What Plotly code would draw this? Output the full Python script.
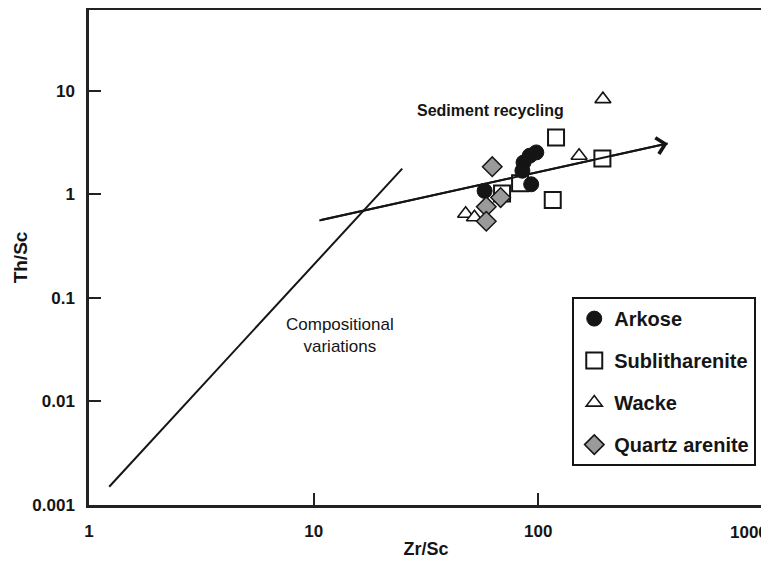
import math
import plotly.graph_objects as go

# ---- data ----
arkose_zr = [57.7, 93, 86, 91.6, 98, 85]
arkose_th = [1.08, 1.25, 2.03, 2.36, 2.54, 1.69]

sublith_zr = [120, 193, 116, 83, 69]
sublith_th = [3.54, 2.22, 0.88, 1.28, 1.02]

wacke_zr = [194, 152, 47.5, 52]
wacke_th = [8.3, 2.36, 0.65, 0.60]

quartz_zr = [62.4, 68, 58.7, 58.7]
quartz_th = [1.85, 0.93, 0.76, 0.55]

comp_zr = [1.23, 24.8]
comp_th = [0.0015, 1.77]

recyc_zr = [10.6, 377]
recyc_th = [0.56, 3.1]

x_ticks = [1, 10, 100, 1000]
x_ticklabels = ["1", "10", "100", "1000"]
y_ticks = [0.001, 0.01, 0.1, 1, 10]
y_ticklabels = ["0.001", "0.01", "0.1", "1", "10"]

FONT = "Liberation Sans, Arial, sans-serif"
INK = "#151515"

fig = go.Figure()

# reference lines
fig.add_trace(go.Scatter(x=comp_zr, y=comp_th, mode="lines",
                         line=dict(color=INK, width=2), showlegend=False, hoverinfo="skip"))
fig.add_trace(go.Scatter(x=recyc_zr, y=recyc_th, mode="lines",
                         line=dict(color=INK, width=2), showlegend=False, hoverinfo="skip"))

# data series (draw order chosen to match overlaps)
fig.add_trace(go.Scatter(x=sublith_zr, y=sublith_th, mode="markers", name="Sublitharenite",
                         legendrank=2, legendgroup="b",
                         marker=dict(symbol="square", size=16, color="white",
                                     line=dict(color=INK, width=2))))
fig.add_trace(go.Scatter(x=wacke_zr, y=wacke_th, mode="markers", name="Wacke",
                         legendrank=3, legendgroup="c",
                         marker=dict(symbol="triangle-up", size=14, color="white",
                                     line=dict(color=INK, width=1.6))))
fig.add_trace(go.Scatter(x=arkose_zr, y=arkose_th, mode="markers", name="Arkose",
                         legendrank=1, legendgroup="a",
                         marker=dict(symbol="circle", size=15, color=INK,
                                     line=dict(color=INK, width=1))))
fig.add_trace(go.Scatter(x=quartz_zr, y=quartz_th, mode="markers", name="Quartz arenite",
                         legendrank=4, legendgroup="d",
                         marker=dict(symbol="diamond", size=15, color="#9a9a9a",
                                     line=dict(color=INK, width=1.5))))

# arrowhead at the end of the recycling trend
fig.add_annotation(x=math.log10(recyc_zr[1]), y=math.log10(recyc_th[1]),
                   ax=math.log10(recyc_zr[0]), ay=math.log10(recyc_th[0]),
                   xref="x", yref="y", axref="x", ayref="y",
                   text="", showarrow=True, arrowhead=4, arrowsize=1.6,
                   arrowwidth=2, arrowcolor=INK)

fig.add_annotation(x=math.log10(61.5), y=math.log10(6.5), xref="x", yref="y",
                   text="<b>Sediment recycling</b>", showarrow=False,
                   font=dict(family=FONT, size=16, color=INK))
fig.add_annotation(x=math.log10(13.1), y=math.log10(0.0434), xref="x", yref="y",
                   text="Compositional<br>variations", showarrow=False,
                   font=dict(family=FONT, size=17, color=INK), align="center")

# last x tick label sits at the right edge, kept inside the picture
fig.add_annotation(x=math.log10(x_ticks[-1]), xref="x", y=0, yref="paper",
                   xanchor="right", yanchor="top", xshift=7, yshift=-16,
                   text="<b>%s</b>" % x_ticklabels[-1], showarrow=False,
                   font=dict(family=FONT, size=17, color=INK))

axis_common = dict(type="log", showgrid=False, zeroline=False, automargin=False,
                   showline=True, linecolor="#222", linewidth=2.5, mirror=True,
                   ticks="inside", ticklen=12, tickwidth=2, tickcolor="#222",
                   tickfont=dict(family=FONT, size=17, color=INK, weight="bold"))

fig.update_xaxes(range=[0, 3.0005], tickvals=x_ticks[:-1], ticktext=x_ticklabels[:-1],
                 ticklabelstandoff=9,
                 title=dict(text="<b>Zr/Sc</b>", font=dict(family=FONT, size=18, color=INK),
                            standoff=3),
                 **axis_common)
fig.update_yaxes(range=[-3, 1.78], tickvals=y_ticks, ticktext=y_ticklabels,
                 ticklabelstandoff=8,
                 title=dict(text="<b>Th/Sc</b>", font=dict(family=FONT, size=19, color=INK),
                            standoff=0),
                 **axis_common)

# the page body adds an 8px offset, so the figure is shifted up/left by 8px
fig.update_layout(
    width=769, height=562, autosize=False,
    margin=dict(l=81, r=14, t=2, b=65),
    plot_bgcolor="white", paper_bgcolor="white",
    legend=dict(x=0.717, y=0.42, xanchor="left", yanchor="top",
                bordercolor=INK, borderwidth=2, bgcolor="white",
                font=dict(family=FONT, size=20, color=INK, weight="bold"),
                tracegroupgap=13, itemsizing="trace"),
)

fig.write_html("out.html")
